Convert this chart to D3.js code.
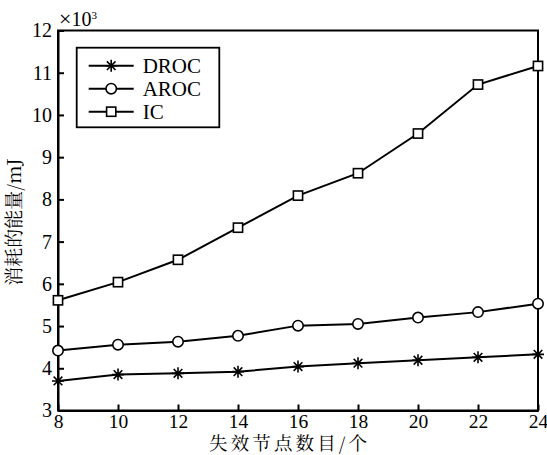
<!DOCTYPE html>
<html>
<head>
<meta charset="utf-8">
<script src="https://cdn.jsdelivr.net/npm/d3@7"></script>
<style>
  body { margin: 0; background: #fff; }
  svg text { fill: #000; }
</style>
</head>
<body>
<svg id="svg" width="547" height="455"></svg>
<script>
var xValues = [8, 10, 12, 14, 16, 18, 20, 22, 24];
var drocValues = [3.70, 3.85, 3.88, 3.92, 4.04, 4.12, 4.19, 4.26, 4.33];
var arocValues = [4.42, 4.56, 4.63, 4.77, 5.01, 5.05, 5.20, 5.33, 5.53];
var icValues = [5.61, 6.04, 6.57, 7.33, 8.09, 8.62, 9.56, 10.72, 11.16];
var seriesNames = ['DROC', 'AROC', 'IC'];
var xTicks = [8, 10, 12, 14, 16, 18, 20, 22, 24];
var yTicks = [3, 4, 5, 6, 7, 8, 9, 10, 11, 12];

var serif = '"Liberation Serif", "DejaVu Serif", serif';
var cjk = '"Noto Serif CJK SC", "Noto Sans CJK SC", sans-serif';

var marginLeft = 58;
var marginTop = 30.5;
var plotW = 480;
var plotH = 380;

var svg = d3.select('svg')
    .append('g')
    .attr('transform', 'translate(' + marginLeft + ',' + marginTop + ')');

var x = d3.scaleLinear().domain([8, 24]).range([0, plotW]);
var y = d3.scaleLinear().domain([3, 12]).range([plotH, 0]);

// frame
svg.append('rect')
    .attr('width', plotW)
    .attr('height', plotH)
    .attr('fill', 'none')
    .attr('stroke', '#000')
    .attr('stroke-width', 2);

// axes, ticks point inward
var xAxis = svg.append('g')
    .attr('transform', 'translate(0,' + plotH + ')')
    .call(d3.axisBottom(x).tickValues(xTicks).tickSizeInner(-6).tickSizeOuter(0).tickPadding(4));
var yAxis = svg.append('g')
    .call(d3.axisLeft(y).tickValues(yTicks).tickSizeInner(-6).tickSizeOuter(0).tickPadding(6));

[xAxis, yAxis].forEach(function(ax){
    ax.select('.domain').attr('stroke-width', 2);
    ax.selectAll('.tick line').attr('stroke-width', 2);
    ax.selectAll('.tick text')
        .style('font-family', serif)
        .style('font-size', '20px')
        .attr('fill', '#000');
});
xAxis.selectAll('.tick text').style('font-size', '19.5px');

// x10^3 multiplier
var mult = svg.append('text')
    .attr('x', 1)
    .attr('y', -5)
    .style('font-family', serif)
    .style('font-size', '20px');
mult.append('tspan').text('\u00d7').style('font-size', '22px');
mult.append('tspan').text('10');
mult.append('tspan').text('3').attr('dy', -7).style('font-size', '11px');

// axis titles
svg.append('text')
    .text('失效节点数目/个')
    .attr('x', 230)
    .attr('y', plotH + 39)
    .attr('textLength', 158)
    .attr('lengthAdjust', 'spacing')
    .style('text-anchor', 'middle')
    .style('font-family', cjk)
    .style('font-size', '18.5px')
    .attr('fill', '#000');

svg.append('text')
    .text('消耗的能量/mJ')
    .attr('transform', 'translate(' + (-37) + ',' + 191.5 + ') rotate(-90)')
    .style('text-anchor', 'middle')
    .style('font-family', cjk)
    .style('font-size', '19px')
    .attr('fill', '#000');

var series = [
    {name: seriesNames[0], values: drocValues, marker: 'star'},
    {name: seriesNames[1], values: arocValues, marker: 'circle'},
    {name: seriesNames[2], values: icValues, marker: 'square'}
];

var line = d3.line()
    .x(function(d){ return x(d[0]); })
    .y(function(d){ return y(d[1]); });

function drawMarker(g, type, cx, cy) {
    if (type === 'star') {
        var r = 6;
        g.append('path')
            .attr('d', 'M' + (cx - r) + ',' + cy + 'H' + (cx + r) +
                'M' + cx + ',' + (cy - r) + 'V' + (cy + r) +
                'M' + (cx - r * 0.72) + ',' + (cy - r * 0.72) + 'L' + (cx + r * 0.72) + ',' + (cy + r * 0.72) +
                'M' + (cx - r * 0.72) + ',' + (cy + r * 0.72) + 'L' + (cx + r * 0.72) + ',' + (cy - r * 0.72))
            .attr('stroke', '#000')
            .attr('stroke-width', 1.6)
            .attr('fill', 'none');
    } else if (type === 'circle') {
        g.append('circle')
            .attr('cx', cx).attr('cy', cy).attr('r', 5.2)
            .attr('fill', '#fff')
            .attr('stroke', '#000')
            .attr('stroke-width', 1.6);
    } else {
        g.append('rect')
            .attr('x', cx - 4.6).attr('y', cy - 4.6)
            .attr('width', 9.2).attr('height', 9.2)
            .attr('fill', '#fff')
            .attr('stroke', '#000')
            .attr('stroke-width', 1.6);
    }
}

series.forEach(function(s){
    var pts = xValues.map(function(v, i){ return [v, s.values[i]]; });
    svg.append('path')
        .datum(pts)
        .attr('d', line)
        .attr('fill', 'none')
        .attr('stroke', '#000')
        .attr('stroke-width', 2);
    var mg = svg.append('g');
    pts.forEach(function(p){
        drawMarker(mg, s.marker, x(p[0]), y(p[1]));
    });
});

// legend
var legend = svg.append('g').attr('transform', 'translate(' + (76.7 - marginLeft) + ',' + (47.7 - marginTop) + ')');
legend.append('rect')
    .attr('width', 142.6)
    .attr('height', 79.6)
    .attr('fill', '#fff')
    .attr('stroke', '#000')
    .attr('stroke-width', 1.8);

series.forEach(function(s, i){
    var ly = 18 + i * 23;
    legend.append('line')
        .attr('x1', 12).attr('x2', 57)
        .attr('y1', ly).attr('y2', ly)
        .attr('stroke', '#000')
        .attr('stroke-width', 2);
    drawMarker(legend, s.marker, 34.5, ly);
    legend.append('text')
        .text(s.name)
        .attr('x', 66)
        .attr('y', ly)
        .attr('dy', '0.35em')
        .style('font-family', serif)
        .style('font-size', '21px');
});
</script>
</body>
</html>
